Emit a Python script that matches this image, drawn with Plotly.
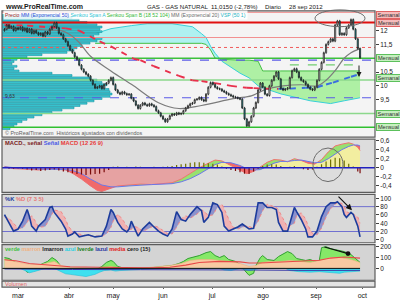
import plotly.graph_objects as go

FONT = "Liberation Sans, Arial, sans-serif"

# ------------------------------------------------------------------ data
months = ["mar", "abr", "may", "jun", "jul", "ago", "sep", "oct"]
month_pos = [6, 28.5, 48, 70, 91.7, 114.2, 137.6, 158]

open0 = 12.0
close = [12.05, 12.2, 12.1, 12.15, 12.0, 12.1, 12.05, 12.12,
         12.0, 12.08, 11.95, 12.05, 11.9, 12.0, 11.92, 11.85,
         11.9, 11.8, 11.95, 11.88, 12.05, 12.15,
         12.28, 12.1, 11.9, 11.85, 11.7, 11.6, 11.45, 11.3, 11.2, 11.05, 10.95, 10.75,
         10.6, 10.5, 10.42, 10.35, 10.2, 10.05,
         9.92, 9.95, 10.0, 9.9, 10.05, 10.1, 10.2, 10.3, 10.05, 9.85,
         9.75, 9.7, 9.78, 9.72, 9.68, 9.7, 9.55, 9.45, 9.3, 9.18,
         9.3, 9.38, 9.32, 9.28, 9.35, 9.3, 9.25, 9.1, 9.02, 8.9,
         8.8, 8.7, 8.8, 8.92, 8.98, 8.95, 9.02, 8.98, 9.0, 9.1,
         9.2, 9.28, 9.35, 9.38, 9.5, 9.52, 9.58, 9.5, 9.45, 9.7,
         9.95, 10.12, 10.05, 9.95, 9.9, 9.88, 9.82, 9.78, 9.72, 9.68,
         9.64, 9.6, 9.58, 9.55, 9.52, 9.2, 8.8, 8.55, 8.7, 8.9,
         9.2, 9.4, 9.85, 10.1, 9.95, 9.7, 9.65, 10.0, 10.2, 10.35,
         10.5, 10.25, 9.9, 9.85, 9.88, 9.92, 10.3, 10.55, 10.62, 10.5,
         10.3, 10.2, 10.15, 10.05, 9.95, 9.88, 9.85, 9.95, 10.2, 10.6,
         10.85, 11.2, 11.5, 11.6, 11.7, 11.62, 12.2, 12.35, 11.85, 11.9,
         11.85, 12.1, 12.2, 12.4, 12.05, 11.7, 11.35, 11.015]

ema20_idx = [0, 10, 20, 25, 29, 33, 38, 47, 57, 68, 77, 87, 101, 109, 112, 116, 123, 131, 138, 142, 146, 150, 153, 157]
ema20_val = [12.08, 12.06, 12.02, 12.0, 11.85, 11.57, 11.07, 10.54, 10.0, 9.39, 9.18, 9.29, 9.54, 9.64, 9.75, 9.89,
             10.0, 10.04, 10.0, 10.2, 10.55, 11.0, 11.2, 11.35]

ema50_idx = [0, 10, 20, 27, 33, 42, 47, 57, 60, 66, 77, 83, 87, 93, 100, 107, 110, 115, 121, 126, 133, 138, 142,
             145, 150, 153, 157]
ema50_val = [12.2, 12.18, 12.12, 12.08, 12.0, 11.61, 11.43, 10.98, 10.93, 10.71, 10.36, 10.2, 10.17, 10.1, 10.0,
             9.93, 9.92, 9.9, 9.89, 9.9, 9.93, 9.95, 10.05, 10.12, 10.25, 10.33, 10.43]

cloud_idx = [40, 47, 56, 63, 74, 83, 87, 89, 91, 93, 96, 104, 108, 112, 114, 122, 135, 144, 150, 157]
span_a = [11.89, 12.07, 12.18, 12.25, 12.25, 12.14, 11.89, 11.75, 11.43, 11.18, 10.89, 10.46, 10.29, 10.0, 9.93,
          9.71, 9.46, 9.36, 9.46, 9.57]
span_b = [11.54, 11.54, 11.54, 11.54, 11.54, 11.54, 11.54, 11.5, 11.3, 11.0, 10.96, 10.93, 10.93, 10.89, 10.54,
          10.54, 10.54, 10.54, 10.54, 10.54]

vsp_top, vsp_bottom = 12.59, 8.41
vsp_volume = [55, 70, 77, 85, 95, 100, 98, 100, 97, 92, 100, 95, 88, 80, 75, 72, 65, 40, 25, 15,
              12, 10, 15, 12, 17, 50, 70, 88, 95, 100, 105, 103, 107, 108, 110, 108, 100, 92, 85, 78,
              72, 60, 50, 40, 32, 25, 20, 15, 12, 8]

level_price = [12.66, 12.29, 11.75, 11.39, 11.00, 10.93, 10.21, 9.57, 9.00, 8.50]
partial_level_price = 10.76
partial_level_idx = [126, 157]
box_text = ["Semanal", "Mensual", "Mensual", "Semanal", "Semanal", "Mensual"]
box_price = [12.55, 12.29, 11.0, 10.27, 9.0, 8.5]

macd_idx = [0, 4, 10, 15, 20, 24, 27, 30, 34, 38, 41, 43, 47, 50, 55, 60, 65, 70, 74, 78, 82, 86, 90, 93, 96,
            100, 104, 107, 110, 113, 116, 119, 122, 125, 128, 131, 134, 137, 140, 143, 146, 149, 152, 154, 156, 157]
macd_line = [0.03, -0.02, -0.03, -0.05, -0.02, -0.03, -0.05, -0.12, -0.25, -0.4,
             -0.5, -0.52, -0.45, -0.4, -0.38, -0.36, -0.37, -0.35, -0.33, -0.25,
             -0.12, 0.0, 0.1, 0.17, 0.15, 0.05, -0.05, -0.13, -0.08, 0.02,
             0.12, 0.18, 0.17, 0.13, 0.2, 0.16, 0.1, 0.08, 0.18, 0.35,
             0.48, 0.52, 0.55, 0.52, 0.45, 0.38]
macd_signal = [0.02, 0.0, -0.02, -0.03, -0.03, -0.03, -0.04, -0.06, -0.13, -0.25,
               -0.33, -0.38, -0.42, -0.42, -0.40, -0.38, -0.37, -0.36, -0.35, -0.31,
               -0.24, -0.14, -0.02, 0.07, 0.12, 0.11, 0.05, -0.02, -0.05, -0.04,
               0.03, 0.1, 0.14, 0.14, 0.16, 0.17, 0.14, 0.11, 0.12, 0.2,
               0.3, 0.4, 0.47, 0.5, 0.5, 0.48]
hist_idx = list(range(0, 157, 2)) + [157]
macd_hist = [0.01, -0.02, -0.02, -0.01, -0.02, -0.04, -0.06, -0.05, -0.07, -0.06,
             -0.05, -0.04, -0.06, -0.08, -0.10, -0.12, -0.14, -0.15, -0.16, -0.15,
             -0.14, -0.13, -0.10, -0.05, 0.02, 0.03, 0.01, 0.02, 0.01, 0.03,
             0.02, 0.0, 0.01, 0.02, 0.01, 0.02, 0.03, 0.04, 0.06, 0.08,
             0.09, 0.11, 0.12, 0.12, 0.11, 0.10, 0.09, 0.07, 0.03, -0.02,
             -0.05, -0.07, -0.10, -0.13, -0.14, -0.08, -0.02, 0.04, 0.07, 0.08,
             0.07, 0.04, 0.01, 0.02, 0.04, 0.01, -0.03, -0.05, -0.04, 0.02,
             0.08, 0.14, 0.18, 0.22, 0.21, 0.16, 0.09, 0.03, -0.08,
             -0.12]

stoch_idx = [0, 2, 4, 6, 8, 10, 11, 12, 14, 15, 18, 20, 21, 22, 25, 27, 28, 30, 31, 33,
             35, 37, 40, 43, 45, 47, 48, 50, 52, 54, 55, 56, 57, 59, 61, 64, 66, 68, 70, 72,
             74, 76, 78, 80, 82, 85, 87, 88, 90, 92, 94, 96, 97, 99, 101, 103, 105, 107, 108, 110,
             112, 114, 116, 118, 120, 121, 123, 125, 128, 129, 131, 133, 134, 136, 138, 140, 142, 144, 146, 147,
             149, 150, 151, 153, 154, 156, 157]
stoch_k = [61, 42, 21, 26, 45, 73, 56, 33, 21, 33, 49, 78, 80, 66, 45, 26, 9, 14, 19, 7,
           9, 12, 7, 9, 33, 73, 66, 42, 26, 19, 26, 45, 33, 9, 26, 42, 31, 21, 14, 9,
           26, 68, 49, 45, 61, 80, 70, 42, 54, 89, 85, 66, 33, 21, 26, 31, 38, 31, 26, 28,
           89, 89, 78, 78, 73, 42, 21, 21, 78, 68, 49, 26, 7, 7, 21, 56, 80, 89, 89, 92,
           80, 61, 54, 66, 61, 33, 7]
stoch_d = [55, 52, 40, 28, 28, 42, 52, 58, 42, 30, 32, 50, 62, 72, 68, 50, 35, 20, 15, 14,
           11, 9, 9, 9, 14, 30, 45, 62, 50, 32, 25, 25, 32, 30, 20, 28, 34, 30, 22, 15,
           14, 30, 50, 58, 52, 62, 72, 70, 58, 60, 78, 86, 75, 50, 30, 26, 30, 34, 32, 28,
           45, 70, 86, 82, 78, 72, 50, 30, 40, 58, 65, 50, 35, 15, 12, 28, 55, 75, 86, 89,
           88, 80, 68, 62, 62, 55, 40]

lverde_idx = [0, 2, 5, 8, 10, 13, 16, 19, 21, 23, 25, 28, 31, 36, 40, 43, 45, 47, 48, 50,
              53, 58, 62, 67, 71, 74, 77, 79, 81, 84, 86, 89, 91, 93, 95, 97, 99, 102, 104, 106,
              108, 110, 111, 113, 114, 116, 119, 121, 123, 125, 127, 129, 131, 133, 135, 137, 139, 140, 142, 144,
              146, 148, 150, 153, 155, 157]
lverde = [100, 91, 55, 18, -36, -18, 36, 64, 100, 73, 18, -9, -18, -27, -18, 18, 55, 73, 64, 18,
          0, -9, 0, 9, 18, 27, 45, 64, 91, 109, 118, 145, 155, 118, 100, 118, 82, 64, 36, -18,
          -64, -45, 27, 100, 118, 82, 73, 109, 136, 155, 136, 91, 82, 73, 82, 64, 73, 191, 200, 182,
          173, 164, 155, 127, 91, 55]
marron_idx = [0, 2, 7, 11, 16, 20, 22, 25, 29, 33, 38, 42, 47, 51, 60, 64, 69, 73, 78, 82,
              86, 91, 95, 100, 104, 108, 111, 114, 117, 122, 126, 131, 135, 139, 144, 148, 153, 157]
marron = [82, 73, 55, 36, 36, 55, 64, 27, 9, 9, 0, 0, 18, 0, 0, 9, 18, 27, 45, 73,
          82, 82, 73, 64, 45, 18, 27, 55, 64, 64, 73, 64, 55, 73, 100, 100, 82, 55]
azul_idx = [0, 7, 9, 11, 13, 16, 18, 22, 25, 27, 29, 31, 33, 36, 38, 40, 42, 44, 47, 49,
            51, 55, 60, 64, 69, 73, 78, 95, 97, 100, 102, 104, 108, 113, 124, 126, 130, 135, 139, 144,
            148, 150, 153, 157]
azul = [0, 0, -20, -40, -30, -10, 0, 0, -30, -50, -55, -60, -70, -75, -65, -55, -35, -20, -15, -25,
        -20, -15, -10, -5, 0, -5, 0, 0, -15, -20, -10, 0, -20, 0, 0, -20, -30, -35, -30, -40,
        -45, -35, -30, -25]
lazul_idx = [0, 20, 30, 60, 90, 110, 130, 157]
lazul = [-5, -5, -10, -12, -10, -15, -18, -18]
media_idx = [0, 5, 11, 20, 29, 42, 55, 64, 73, 80, 86, 95, 104, 108, 113, 122, 131, 139, 144, 150, 157]
media = [80, 70, 45, 30, 15, 10, 5, 5, 10, 30, 55, 65, 60, 50, 50, 60, 70, 75, 95, 105, 95]

# ------------------------------------------------------------------ geometry helpers
W, H = 400, 300
XR = [-1.1, 163.6]
X_DOM = [2 / W, 375 / W]


def ydom(top, bot):
    return [1 - bot / H, 1 - top / H]


def py(p):
    return 1 - p / H


def px(p):
    return p / W


def band(xs, a, b):
    """polygons of the area between a and b, split where a>=b and a<b"""
    pos_x, pos_y, neg_x, neg_y = [], [], [], []
    for k in range(len(xs) - 1):
        x0, x1 = xs[k], xs[k + 1]
        a0, a1, b0, b1 = a[k], a[k + 1], b[k], b[k + 1]
        d0, d1 = a0 - b0, a1 - b1
        pieces = []
        if d0 * d1 < 0:
            t = d0 / (d0 - d1)
            xc = x0 + t * (x1 - x0)
            yc = a0 + t * (a1 - a0)
            pieces.append((x0, a0, b0, xc, yc, yc, d0))
            pieces.append((xc, yc, yc, x1, a1, b1, d1))
        else:
            pieces.append((x0, a0, b0, x1, a1, b1, d0 + d1))
        for (u0, ua0, ub0, u1, ua1, ub1, d) in pieces:
            sx = [u0, u1, u1, u0, u0, None]
            sy = [ua0, ua1, ub1, ub0, ua0, None]
            if d >= 0:
                pos_x += sx
                pos_y += sy
            else:
                neg_x += sx
                neg_y += sy
    return (pos_x, pos_y), (neg_x, neg_y)


fig = go.Figure()


def poly(xy, color, xa, ya, line=None):
    fig.add_trace(go.Scatter(x=xy[0], y=xy[1], fill="toself", fillcolor=color, mode="lines",
                             line=line or dict(width=0, color="rgba(0,0,0,0)"),
                             xaxis=xa, yaxis=ya, hoverinfo="skip", showlegend=False))


def line(x, y, color, width, xa, ya, dash="solid", shape="linear"):
    fig.add_trace(go.Scatter(x=x, y=y, mode="lines", line=dict(color=color, width=width, dash=dash, shape=shape),
                             xaxis=xa, yaxis=ya, hoverinfo="skip", showlegend=False))


# ------------------------------------------------------------------ main price panel
cpos, cneg = band(cloud_idx, span_a, span_b)
poly(cpos, "#aff1f1", "x", "y")
poly(cneg, "#aef0a4", "x", "y")
line(cloud_idx, span_a, "#38d0d8", 1, "x", "y")
line(cloud_idx, span_b, "#44c044", 1, "x", "y")

# volume-at-price profile
nb = len(vsp_volume)
step = (vsp_top - vsp_bottom) / nb
bh = step * 0.78
scale = 0.295 * (XR[1] - XR[0]) / max(vsp_volume)
vx, vy = [], []
for k, v in enumerate(vsp_volume):
    c = vsp_top - (k + 0.5) * step
    x1 = XR[0] + v * scale
    vx += [XR[0], x1, x1, XR[0], XR[0], None]
    vy += [c - bh / 2, c - bh / 2, c + bh / 2, c + bh / 2, c - bh / 2, None]
poly((vx, vy), "#3ec8d4", "x", "y", line=dict(width=0.6, color="#1896a2"))

# horizontal support / resistance levels
level_style = [("#f29090", 1, "solid"), ("#e01010", 2, "solid"), ("#f29090", 1, "solid"),
               ("#f05a5a", 1, "dot"), ("#3cc03c", 1.5, "solid"), ("#5a5ae6", 1.2, "dash"),
               ("#8cd88c", 1.4, "solid"), ("#5a5ae6", 1.2, "dash"), ("#8cd88c", 1.4, "solid"),
               ("#30c030", 1.6, "solid")]
for p, (col, w, d) in zip(level_price, level_style):
    line([XR[0], XR[1]], [p, p], col, w, "x", "y", dash=d)
line(partial_level_idx, [partial_level_price] * 2, "#70cc70", 1.2, "x", "y", dash="dash")

# EMA 20 (grey) and EMA 50 (red while falling, blue while rising)
line(ema20_idx, ema20_val, "#7c7c7c", 1.2, "x", "y", shape="spline")
red_x, red_y, blue_x, blue_y = [], [], [], []
for k in range(len(ema50_idx) - 1):
    seg_x = [ema50_idx[k], ema50_idx[k + 1], None]
    seg_y = [ema50_val[k], ema50_val[k + 1], None]
    if ema50_val[k + 1] < ema50_val[k]:
        red_x += seg_x
        red_y += seg_y
    else:
        blue_x += seg_x
        blue_y += seg_y
line(red_x, red_y, "#e8304c", 1.9, "x", "y", dash="6px,6px")
line(blue_x, blue_y, "#3a6ee0", 1.9, "x", "y", dash="6px,6px")

# candles (on overlay axis so they sit on top)
idx = list(range(len(close)))
opens = [open0] + close[:-1]
WICK = 0.04
highs = [max(o, c) + WICK for o, c in zip(opens, close)]
lows = [min(o, c) - WICK for o, c in zip(opens, close)]
fig.add_trace(go.Candlestick(x=idx, open=opens, high=highs, low=lows, close=close,
                             xaxis="x", yaxis="y6", hoverinfo="skip", showlegend=False,
                             increasing=dict(line=dict(color="#202020", width=0.8), fillcolor="#f6f6f6"),
                             decreasing=dict(line=dict(color="#202020", width=0.8), fillcolor="#1a9aa2")))

# ------------------------------------------------------------------ MACD panel
zeros = [0] * len(macd_idx)
zpos, zneg = band(macd_idx, macd_line, zeros)
poly(zpos, "#f2eea0", "x2", "y2")
poly(zneg, "#e6a2a2", "x2", "y2")
mpos, mneg = band(macd_idx, macd_line, macd_signal)
poly(mpos, "#98e070", "x2", "y2")
poly(mneg, "#f06a6a", "x2", "y2")
line(macd_idx, macd_line, "#f07070", 1, "x2", "y2")
line(macd_idx, macd_signal, "#6a78ea", 1, "x2", "y2")
hpx, hpy, hnx, hny = [], [], [], []
for i, v in zip(hist_idx, macd_hist):
    if v >= 0:
        hpx += [i, i, None]
        hpy += [0, v, None]
    else:
        hnx += [i, i, None]
        hny += [0, v, None]
line(hpx, hpy, "#707000", 1.2, "x2", "y2")
line(hnx, hny, "#7a0a0a", 1.2, "x2", "y2")
line([XR[0], XR[1]], [0, 0], "#2020c0", 1.5, "x2", "y2")

# ------------------------------------------------------------------ stochastic panel
line([XR[0], XR[1]], [80, 80], "#7070d0", 1, "x3", "y3")
line([XR[0], XR[1]], [20, 20], "#7070d0", 1, "x3", "y3")
spos, sneg = band(stoch_idx, stoch_k, stoch_d)
poly(spos, "#8c92cc", "x3", "y3")
poly(sneg, "#f0b2b2", "x3", "y3")
line(stoch_idx, stoch_d, "#f08888", 1, "x3", "y3", dash="dot")
line(stoch_idx, stoch_k, "#1c3c9c", 1.6, "x3", "y3")

# ------------------------------------------------------------------ custom indicator panel
fig.add_trace(go.Scatter(x=lverde_idx, y=lverde, fill="tozeroy", fillcolor="#86e868", mode="lines",
                         line=dict(color="#30a030", width=1), xaxis="x4", yaxis="y4",
                         hoverinfo="skip", showlegend=False))
fig.add_trace(go.Scatter(x=marron_idx, y=marron, fill="tozeroy", fillcolor="#f8c9a2", mode="lines",
                         line=dict(color="#f0b080", width=0.6), xaxis="x4", yaxis="y4",
                         hoverinfo="skip", showlegend=False))
fig.add_trace(go.Scatter(x=azul_idx, y=azul, fill="tozeroy", fillcolor="#3ee0f0", mode="lines",
                         line=dict(color="#20c0d8", width=0.6), xaxis="x4", yaxis="y4",
                         hoverinfo="skip", showlegend=False))
line(lazul_idx, lazul, "#3a3aa8", 1, "x4", "y4")
line(media_idx, media, "#e84848", 1.1, "x4", "y4")
line([XR[0], 157], [0, 0], "#101010", 1, "x4", "y4")

# volume panel (empty)
fig.add_trace(go.Scatter(x=[XR[0]], y=[0.5], mode="markers", marker=dict(size=1, color="rgba(0,0,0,0)"),
                         xaxis="x5", yaxis="y5", hoverinfo="skip", showlegend=False))

# ------------------------------------------------------------------ layout
main_rng = [8.143, 12.714]
panels = {
    "main": (9, 137, "#f4f4f4"),
    "macd": (139, 193, "#dddddd"),
    "stoch": (195, 244, "#d9d9d9"),
    "ind": (246, 282, "#d4d4d4"),
    "vol": (283, 289, "#e4e4e4"),
}

tickfont = dict(size=6.5, color="#202020", family=FONT)


def xax(anchor, show=False):
    d = dict(domain=X_DOM, anchor=anchor, range=XR, showgrid=False, zeroline=False, showline=False,
             showticklabels=show, ticks="", fixedrange=True)
    return d


def yax(key, rng, tv=None, tt=None, anchor="x"):
    top, bot, _ = panels[key]
    return dict(domain=ydom(top, bot), range=rng, anchor=anchor, side="right", showgrid=False,
                zeroline=False, showline=False, tickvals=tv, ticktext=tt,
                ticks="outside" if tv else "", ticklen=3, tickcolor="#404040", tickfont=tickfont,
                showticklabels=bool(tv), fixedrange=True)


shapes = []
for key, (top, bot, bg) in panels.items():
    shapes.append(dict(type="rect", xref="paper", yref="paper", x0=X_DOM[0], x1=X_DOM[1],
                       y0=py(bot), y1=py(top), fillcolor=bg, line=dict(width=0), layer="below"))
    shapes.append(dict(type="rect", xref="paper", yref="paper", x0=X_DOM[0], x1=X_DOM[1],
                       y0=py(bot), y1=py(top), line=dict(color="#5c5c5c", width=1.2), layer="above"))
# hand-drawn marks
shapes.append(dict(type="circle", xref="paper", yref="paper", x0=px(315), x1=px(365), y0=py(25), y1=py(8),
                   line=dict(color="#6c6c6c", width=1)))
shapes.append(dict(type="circle", xref="paper", yref="paper", x0=px(313), x1=px(343), y0=py(182), y1=py(148),
                   line=dict(color="#6c6c6c", width=1)))

ann = []


def text(x, y, t, size=6.5, color="#202020", bg=None, xanchor="left", family=FONT):
    a = dict(xref="paper", yref="paper", x=px(x), y=py(y), text=t, showarrow=False, xanchor=xanchor,
             yanchor="middle", font=dict(size=size, color=color, family=family))
    if bg:
        a["bgcolor"] = bg
    ann.append(a)


text(3, 4.5, "<b>www.ProRealTime.com</b>", size=7, color="#1a1a1a")
text(145, 4.5, "GAS - GAS NATURAL", size=6.1)
text(209, 4.5, "11,0150 (-2,78%)", size=6.1)
text(263, 4.5, "Diario", size=6.1)
text(287, 4.5, "28 sep 2012", size=6.1)
text(3, 13.5,
     "<span style='color:#b02a2a'>Precio</span> <span style='color:#3050d8'>MM (Exponencial 50)</span> "
     "<span style='color:#2cc4d4'>Senkou Span A</span> <span style='color:#36b836'>Senkou Span B (18 52 104)</span> "
     "<span style='color:#6a6a6a'>MM (Exponencial 20)</span> <span style='color:#22b4c4'>VSP (50 1)</span>",
     size=5.1, bg="rgba(255,255,255,0.85)")
text(3, 132.5, "© ProRealTime.com  Históricos ajustados con dividendos", size=5.4, color="#606060")
text(3, 95, "9,63", size=5, color="#303030")
text(3, 143,
     "<b><span style='color:#7a1a1a'>MACD., señal</span> <span style='color:#4a5ae6'>Señal</span> "
     "<span style='color:#e83a3a'>MACD (12 26 9)</span></b>", size=5.8)
text(3, 199.5, "<b><span style='color:#1c3c9c'>%K</span> <span style='color:#e87878'>%D (7 3 5)</span></b>", size=5.8)
text(3, 250,
     "<b><span style='color:#40c040'>verde</span> <span style='color:#f0b080'>marron</span> "
     "<span style='color:#202020'>lmarron</span> <span style='color:#28d0e0'>azul</span> "
     "<span style='color:#208020'>lverde</span> <span style='color:#2838a0'>lazul</span> "
     "<span style='color:#e02020'>media</span> <span style='color:#202020'>cero (15)</span></b>", size=5.6)
text(3, 286, "Volumen", size=5.6, color="#e06060")

for t, p in zip(box_text, box_price):
    pink = p > 12
    ann.append(dict(xref="paper", yref="y", x=px(375.5), y=p, text=t, showarrow=False, xanchor="left",
                    yanchor="middle", width=23, font=dict(size=5.6, color="#303030", family=FONT),
                    bgcolor="#f5bcbc" if pink else "#c6f0c0", bordercolor="#e06464" if pink else "#5cc05c",
                    borderwidth=1, borderpad=0))

# arrows
ann.append(dict(xref="paper", yref="paper", x=px(359), y=py(76), ax=0, ay=-13, text="", showarrow=True,
                arrowhead=2, arrowsize=1, arrowwidth=1, arrowcolor="#202020"))
ann.append(dict(xref="paper", yref="paper", x=px(352), y=py(211), ax=-15, ay=-15, text="", showarrow=True,
                arrowhead=2, arrowsize=1, arrowwidth=1.2, arrowcolor="#101010"))
ann.append(dict(xref="paper", yref="paper", x=px(348), y=py(255), ax=-25, ay=-7, text="", showarrow=True,
                arrowhead=6, arrowsize=1, arrowwidth=1.2, arrowcolor="#101010"))

fig.update_layout(
    width=W, height=H, autosize=False,
    margin=dict(l=0, r=0, t=0, b=0, pad=0),
    paper_bgcolor="white", plot_bgcolor="rgba(0,0,0,0)",
    showlegend=False, font=dict(family=FONT, size=7, color="#222"),
    xaxis=dict(xax("y"), rangeslider=dict(visible=False)),
    xaxis2=xax("y2"), xaxis3=xax("y3"), xaxis4=xax("y4"),
    xaxis5=dict(xax("y5", show=True), tickvals=month_pos, ticktext=months,
                tickfont=dict(size=7, color="#202020", family=FONT), ticks="outside", ticklen=1,
                tickcolor="#606060"),
    yaxis=yax("main", main_rng, [12, 11.5, 10.5, 10, 9.5], ["12", "11,5", "10,5", "10", "9,5"]),
    yaxis6=dict(overlaying="y", anchor="x", range=main_rng, visible=False, fixedrange=True),
    yaxis2=yax("macd", [-0.543, 0.63], [-0.4, -0.2, 0, 0.2, 0.4, 0.6], ["-0,4", "-0,2", "0", "0,2", "0,4", "0,6"],
               anchor="x2"),
    yaxis3=yax("stoch", [-7.1, 109.5], [0, 20, 40, 60, 80, 100], ["0", "20", "40", "60", "80", "100"],
               anchor="x3"),
    yaxis4=yax("ind", [-109, 218], [0, 100, 200], ["0", "100", "200"], anchor="x4"),
    yaxis5=yax("vol", [0, 1], anchor="x5"),
    shapes=shapes, annotations=ann, barmode="overlay",
)

fig.write_html("out.html", config={"displayModeBar": False})
